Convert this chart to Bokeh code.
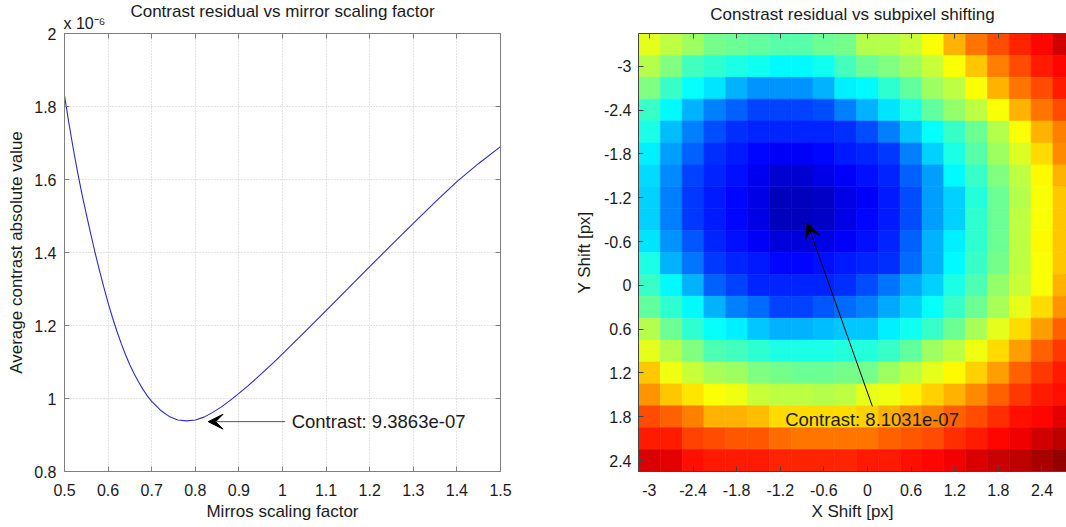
from bokeh.plotting import figure
from bokeh.models import Range1d, FixedTicker, Label, Arrow, VeeHead, ColumnDataSource, Title, LinearAxis
from bokeh.layouts import row
from bokeh.embed import file_html
from bokeh.resources import INLINE

FONT = "Liberation Sans"
TXT = "#1a1a1a"

# ---------------- data: left panel ----------------
scale_factor = [0.5, 0.51, 0.52, 0.53, 0.54, 0.55, 0.56, 0.57, 0.58, 0.59, 0.60, 0.61, 0.62,
                0.63, 0.64, 0.65, 0.66, 0.67, 0.68, 0.69, 0.70, 0.72, 0.74, 0.76, 0.78, 0.80,
                0.82, 0.84, 0.86, 0.88, 0.90, 0.92, 0.94, 0.96, 0.98, 1.0, 1.05, 1.1, 1.15,
                1.2, 1.25, 1.3, 1.35, 1.4, 1.45, 1.5]
contrast_e6 = [1.83, 1.755, 1.685, 1.62, 1.56, 1.505, 1.452, 1.40, 1.352, 1.306, 1.262, 1.222,
               1.185, 1.151, 1.12, 1.092, 1.067, 1.045, 1.025, 1.007, 0.992, 0.968, 0.951, 0.941,
               0.9386, 0.941, 0.949, 0.962, 0.977, 0.995, 1.014, 1.034, 1.055, 1.077, 1.099, 1.122,
               1.181, 1.241, 1.301, 1.361, 1.421, 1.48, 1.538, 1.594, 1.644, 1.69]
x_ticks_left = [0.5, 0.6, 0.7, 0.8, 0.9, 1.0, 1.1, 1.2, 1.3, 1.4, 1.5]
x_labels_left = ["0.5", "0.6", "0.7", "0.8", "0.9", "1", "1.1", "1.2", "1.3", "1.4", "1.5"]
y_ticks_left = [0.8, 1.0, 1.2, 1.4, 1.6, 1.8, 2.0]
y_labels_left = ["0.8", "1", "1.2", "1.4", "1.6", "1.8", "2"]
min_scale = 0.78
min_contrast_e6 = 0.9386
min_contrast_1 = "9.3863e-07"

# ---------------- data: right panel ----------------
x_shift = [-3.0, -2.7, -2.4, -2.1, -1.8, -1.5, -1.2, -0.9, -0.6, -0.3,
           0.0, 0.3, 0.6, 0.9, 1.2, 1.5, 1.8, 2.1, 2.4, 2.7]
y_shift = [-3.3, -3.0, -2.7, -2.4, -2.1, -1.8, -1.5, -1.2, -0.9, -0.6,
           -0.3, 0.0, 0.3, 0.6, 0.9, 1.2, 1.5, 1.8, 2.1, 2.4]
# relative colour level (0..1 on the jet scale); rows follow y_shift, columns follow x_shift
level = [
    [0.60, 0.56, 0.53, 0.49, 0.48, 0.47, 0.46, 0.46, 0.48, 0.49, 0.55, 0.55, 0.57, 0.62, 0.70, 0.76, 0.80, 0.84, 0.87, 0.92],
    [0.55, 0.50, 0.44, 0.42, 0.40, 0.39, 0.37, 0.37, 0.39, 0.44, 0.48, 0.50, 0.53, 0.57, 0.62, 0.68, 0.75, 0.80, 0.85, 0.87],
    [0.50, 0.43, 0.38, 0.35, 0.30, 0.27, 0.27, 0.27, 0.30, 0.36, 0.37, 0.42, 0.47, 0.53, 0.56, 0.62, 0.70, 0.76, 0.80, 0.85],
    [0.43, 0.37, 0.30, 0.25, 0.22, 0.19, 0.19, 0.19, 0.20, 0.25, 0.30, 0.35, 0.40, 0.47, 0.52, 0.56, 0.62, 0.70, 0.76, 0.80],
    [0.40, 0.31, 0.25, 0.20, 0.17, 0.16, 0.16, 0.16, 0.16, 0.17, 0.20, 0.25, 0.32, 0.38, 0.43, 0.48, 0.55, 0.62, 0.70, 0.75],
    [0.36, 0.28, 0.22, 0.17, 0.15, 0.13, 0.12, 0.12, 0.13, 0.15, 0.16, 0.18, 0.25, 0.33, 0.40, 0.46, 0.53, 0.59, 0.66, 0.74],
    [0.34, 0.26, 0.19, 0.16, 0.14, 0.11, 0.08, 0.08, 0.10, 0.12, 0.14, 0.16, 0.22, 0.28, 0.37, 0.43, 0.50, 0.56, 0.63, 0.70],
    [0.33, 0.25, 0.18, 0.15, 0.13, 0.10, 0.06, 0.06, 0.07, 0.10, 0.12, 0.15, 0.20, 0.28, 0.33, 0.41, 0.48, 0.55, 0.62, 0.68],
    [0.33, 0.25, 0.18, 0.15, 0.13, 0.10, 0.06, 0.06, 0.07, 0.10, 0.13, 0.15, 0.20, 0.28, 0.33, 0.42, 0.48, 0.56, 0.62, 0.68],
    [0.35, 0.27, 0.21, 0.16, 0.14, 0.12, 0.09, 0.09, 0.10, 0.12, 0.14, 0.16, 0.22, 0.30, 0.36, 0.42, 0.48, 0.56, 0.63, 0.68],
    [0.40, 0.30, 0.24, 0.18, 0.16, 0.15, 0.13, 0.13, 0.14, 0.15, 0.16, 0.17, 0.23, 0.30, 0.37, 0.43, 0.49, 0.56, 0.62, 0.68],
    [0.43, 0.37, 0.30, 0.22, 0.19, 0.16, 0.16, 0.16, 0.16, 0.17, 0.20, 0.24, 0.29, 0.33, 0.40, 0.45, 0.52, 0.57, 0.62, 0.70],
    [0.47, 0.42, 0.37, 0.30, 0.25, 0.23, 0.19, 0.19, 0.21, 0.23, 0.25, 0.29, 0.33, 0.38, 0.43, 0.48, 0.54, 0.60, 0.66, 0.73],
    [0.55, 0.48, 0.42, 0.38, 0.36, 0.32, 0.30, 0.30, 0.31, 0.32, 0.32, 0.36, 0.39, 0.43, 0.48, 0.54, 0.60, 0.66, 0.72, 0.78],
    [0.60, 0.55, 0.50, 0.45, 0.44, 0.42, 0.40, 0.40, 0.40, 0.41, 0.41, 0.43, 0.47, 0.53, 0.56, 0.61, 0.66, 0.72, 0.78, 0.82],
    [0.68, 0.61, 0.57, 0.54, 0.53, 0.50, 0.49, 0.48, 0.48, 0.49, 0.49, 0.53, 0.56, 0.60, 0.63, 0.67, 0.72, 0.78, 0.82, 0.85],
    [0.73, 0.68, 0.65, 0.62, 0.61, 0.57, 0.56, 0.56, 0.55, 0.56, 0.60, 0.61, 0.64, 0.67, 0.70, 0.74, 0.78, 0.82, 0.85, 0.86],
    [0.80, 0.78, 0.75, 0.70, 0.70, 0.69, 0.66, 0.66, 0.66, 0.66, 0.67, 0.70, 0.73, 0.75, 0.78, 0.80, 0.83, 0.86, 0.87, 0.90],
    [0.85, 0.85, 0.81, 0.80, 0.79, 0.79, 0.77, 0.76, 0.76, 0.76, 0.76, 0.78, 0.79, 0.80, 0.83, 0.85, 0.87, 0.89, 0.92, 0.94],
    [0.91, 0.90, 0.86, 0.85, 0.85, 0.85, 0.84, 0.84, 0.84, 0.84, 0.85, 0.85, 0.86, 0.87, 0.89, 0.91, 0.93, 0.94, 0.96, 0.98],
]
shift_ticks = [-3.0, -2.4, -1.8, -1.2, -0.6, 0.0, 0.6, 1.2, 1.8, 2.4]
shift_labels = ["-3", "-2.4", "-1.8", "-1.2", "-0.6", "0", "0.6", "1.2", "1.8", "2.4"]
best_x, best_y = -0.827, -0.849
min_contrast_2 = "8.1031e-07"
cell = 0.3
x_left_edge = -3.15


def jet(t):
    def c(v):
        return max(0.0, min(1.0, v))
    r = c(1.5 - abs(4 * t - 3))
    g = c(1.5 - abs(4 * t - 2))
    b = c(1.5 - abs(4 * t - 1))
    return "#%02x%02x%02x" % (int(round(r * 255)), int(round(g * 255)), int(round(b * 255)))


def style_axis(ax, ticks, labels, color="#7f7f7f"):
    ax.ticker = FixedTicker(ticks=ticks)
    ax.major_label_overrides = {t: l for t, l in zip(ticks, labels)}
    ax.major_tick_in = 5
    ax.major_tick_out = 0
    ax.minor_tick_in = 0
    ax.minor_tick_out = 0
    ax.axis_line_color = color
    ax.major_tick_line_color = color
    ax.major_label_text_font = FONT
    ax.major_label_text_font_size = "16px"
    ax.major_label_text_color = TXT
    ax.axis_label_text_font = FONT
    ax.axis_label_text_font_size = "17px"
    ax.axis_label_text_font_style = "normal"
    ax.axis_label_text_color = TXT


def tick_only_axis(ticks, color):
    # box-side axis: inward tick marks only, labels not drawn
    ax = LinearAxis(ticker=FixedTicker(ticks=ticks))
    ax.major_label_text_color = None
    ax.major_label_text_font_size = "0px"
    ax.major_label_standoff = 0
    ax.major_tick_in = 5
    ax.major_tick_out = 0
    ax.minor_tick_in = 0
    ax.minor_tick_out = 0
    ax.axis_line_color = color
    ax.major_tick_line_color = color
    return ax


def spacer_axis(px, at):
    # reserves px of room above the frame; its single tick is white on white
    ax = LinearAxis(ticker=FixedTicker(ticks=[at]))
    ax.major_label_text_color = None
    ax.major_label_text_font_size = "0px"
    ax.major_label_standoff = 0
    ax.major_tick_in = 0
    ax.major_tick_out = px
    ax.minor_tick_in = 0
    ax.minor_tick_out = 0
    ax.axis_line_color = None
    ax.major_tick_line_color = "white"
    return ax


# ---------------- left figure ----------------
p1 = figure(width=560, height=527, x_range=Range1d(0.5, 1.5), y_range=Range1d(0.8, 2.0),
            title=None, output_backend="svg", toolbar_location=None,
            min_border_left=64, min_border_right=60, min_border_top=33, min_border_bottom=56)
p1.outline_line_color = "#7f7f7f"
p1.line(scale_factor, contrast_e6, line_color="#2b2bc9", line_width=1.1)

style_axis(p1.xaxis[0], x_ticks_left, x_labels_left)
style_axis(p1.yaxis[0], y_ticks_left, y_labels_left)
p1.xaxis.axis_label = "Mirros scaling factor"
p1.yaxis.axis_label = "Average contrast absolute value"
p1.xaxis.major_label_standoff = 12
p1.xaxis.axis_label_standoff = 3
p1.yaxis.major_label_standoff = 8
p1.yaxis.axis_label_standoff = 5

p1.xgrid.ticker = FixedTicker(ticks=x_ticks_left)
p1.ygrid.ticker = FixedTicker(ticks=y_ticks_left)
for g in (p1.xgrid[0], p1.ygrid[0]):
    g.grid_line_color = "#c8c8c8"
    g.grid_line_dash = "1 2"
    g.grid_line_width = 1

p1.add_layout(tick_only_axis(x_ticks_left, "#7f7f7f"), "above")
p1.add_layout(tick_only_axis(y_ticks_left, "#7f7f7f"), "right")
# exponent note (closest to the frame), then the main title above it
p1.add_layout(Title(text="x 10\u207b\u2076", align="left", text_font=FONT, text_font_size="16px",
                    text_font_style="normal", text_color=TXT, standoff=3, offset=-1), "above")
p1.add_layout(Title(text="Contrast residual vs mirror scaling factor", align="center", text_font=FONT,
                    text_font_size="17px", text_font_style="normal", text_color=TXT, standoff=-19),
              "above")

p1.add_layout(Arrow(end=VeeHead(size=15, fill_color="black", line_color="black", line_width=1),
                    x_start=1.006, y_start=min_contrast_e6 - 0.002, x_end=0.8295,
                    y_end=min_contrast_e6 - 0.002, line_color="#555555", line_width=1))
p1.add_layout(Label(x=1.021, y=min_contrast_e6 - 0.002, text="Contrast: " + min_contrast_1,
                    text_align="left", text_baseline="middle", text_font=FONT,
                    text_font_size="18.5px", text_color=TXT))

# ---------------- right figure ----------------
xs, ys, cols = [], [], []
for i, yv in enumerate(y_shift):
    for j, xv in enumerate(x_shift):
        xs.append(xv)
        ys.append(yv)
        cols.append(jet(level[i][j]))
src = ColumnDataSource(dict(x=xs, y=ys, c=cols))

p2 = figure(width=506, height=527, x_range=Range1d(x_left_edge, 2.737), y_range=Range1d(2.55, -3.45),
            title=None, output_backend="svg", toolbar_location=None,
            min_border_left=78, min_border_right=0, min_border_top=33, min_border_bottom=56)
p2.outline_line_color = "#555555"
p2.grid.visible = False
p2.rect(x="x", y="y", width=cell, height=cell, source=src, fill_color="c", line_color="c",
        line_width=0.6)

style_axis(p2.xaxis[0], shift_ticks, shift_labels, color="#444444")
style_axis(p2.yaxis[0], shift_ticks, shift_labels, color="#444444")
p2.xaxis.axis_label = "X Shift [px]"
p2.yaxis.axis_label = "Y Shift [px]"
p2.xaxis.major_label_standoff = 12
p2.xaxis.axis_label_standoff = 3
p2.yaxis.major_label_standoff = 7
p2.yaxis.axis_label_standoff = 7

p2.add_layout(tick_only_axis(shift_ticks, "#444444"), "above")
p2.add_layout(spacer_axis(9, x_left_edge), "above")
p2.add_layout(Title(text="Constrast residual vs subpixel shifting", align="center", text_font=FONT,
                    text_font_size="17px", text_font_style="normal", text_color=TXT, standoff=2,
                    offset=3), "above")
p2.add_layout(Arrow(end=VeeHead(size=15, fill_color="black", line_color="black", line_width=1),
                    x_start=0.067, y_start=1.658, x_end=best_x, y_end=best_y,
                    line_color="black", line_width=1))
p2.add_layout(Label(x=-1.133, y=1.84, text="Contrast: " + min_contrast_2, text_align="left",
                    text_baseline="middle", text_font=FONT, text_font_size="18.5px", text_color=TXT))

layout = row(p1, p2)
open("out.html", "w").write(file_html(layout, INLINE))
